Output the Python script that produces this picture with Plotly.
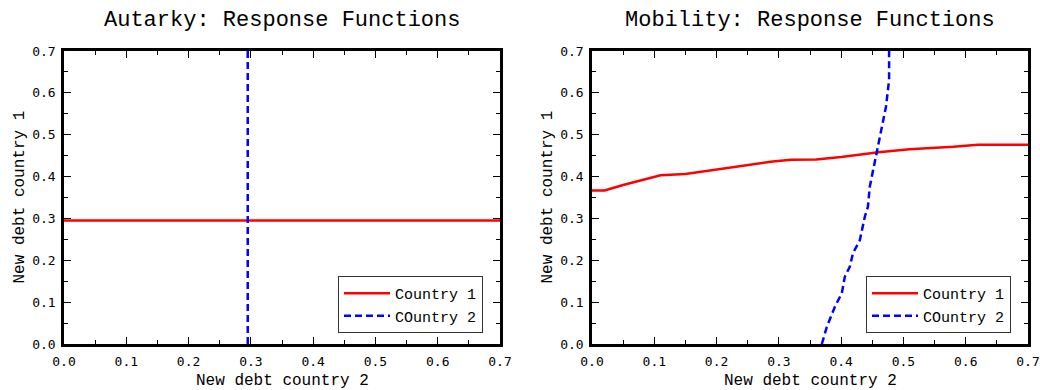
import plotly.graph_objects as go

# ---- data ----
aut_c1_x = [0.0, 0.7]
aut_c1_y = [0.295, 0.295]
aut_c2_x = [0.295, 0.295]
aut_c2_y = [0.0, 0.7]

mob_c1_x = [0.0, 0.02, 0.05, 0.08, 0.11, 0.15, 0.20, 0.25, 0.29, 0.32, 0.36, 0.40,
            0.43, 0.46, 0.51, 0.55, 0.58, 0.62, 0.70]
mob_c1_y = [0.367, 0.367, 0.380, 0.392, 0.403, 0.406, 0.417, 0.428, 0.436, 0.440, 0.441, 0.447,
            0.453, 0.458, 0.465, 0.468, 0.471, 0.476, 0.476]

mob_c2_x = [0.369, 0.377, 0.390, 0.401, 0.406, 0.414, 0.419, 0.430, 0.438, 0.443, 0.446,
            0.457, 0.462, 0.472, 0.477, 0.477]
mob_c2_y = [0.0, 0.041, 0.089, 0.121, 0.161, 0.185, 0.217, 0.248, 0.304, 0.328, 0.376,
            0.456, 0.495, 0.567, 0.631, 0.70]

titles = ["Autarky: Response Functions", "Mobility: Response Functions"]
xlabel = "New debt country 2"
ylabel = "New debt country 1"
names = ["Country 1", "COuntry 2"]
tick_vals = [0.0, 0.1, 0.2, 0.3, 0.4, 0.5, 0.6, 0.7]
tick_text = ["0.0", "0.1", "0.2", "0.3", "0.4", "0.5", "0.6", "0.7"]

W, H = 1040, 390
RED = "#ff0000"
BLUE = "#0000ff"
MONO = "Liberation Mono"
TICKF = "DejaVu Sans Mono"
DASH = "7px,4px"

fig = go.Figure()

fig.add_trace(go.Scatter(x=aut_c1_x, y=aut_c1_y, mode="lines", name=names[0],
                         line=dict(color=RED, width=2.5), xaxis="x", yaxis="y", legend="legend"))
fig.add_trace(go.Scatter(x=aut_c2_x, y=aut_c2_y, mode="lines", name=names[1],
                         line=dict(color=BLUE, width=2.5, dash=DASH), xaxis="x", yaxis="y", legend="legend"))
fig.add_trace(go.Scatter(x=mob_c1_x, y=mob_c1_y, mode="lines", name=names[0],
                         line=dict(color=RED, width=2.5), xaxis="x2", yaxis="y2", legend="legend2"))
fig.add_trace(go.Scatter(x=mob_c2_x, y=mob_c2_y, mode="lines", name=names[1],
                         line=dict(color=BLUE, width=2.5, dash=DASH), xaxis="x2", yaxis="y2", legend="legend2"))

px_l = [(64, 500), (592, 1028)]
ytop, ybot = 51, 344
ydom = [1 - ybot / H, 1 - ytop / H]


def axis_common():
    return dict(
        range=[0, 0.7], tickvals=tick_vals, ticktext=tick_text, automargin=False,
        showline=True, linecolor="black", linewidth=2.5, mirror="ticks",
        ticks="inside", ticklen=7, tickwidth=1, tickcolor="black",
        minor=dict(dtick=0.05, ticks="inside", ticklen=4, tickwidth=1, tickcolor="black"),
        showgrid=False, zeroline=False,
        tickfont=dict(family=TICKF, size=13, color="black"),
    )


layout = dict(
    width=W, height=H, margin=dict(l=0, r=0, t=0, b=0, autoexpand=False),
    paper_bgcolor="white", plot_bgcolor="white", showlegend=True,
)
for i, (a, b) in enumerate(px_l):
    sfx = "" if i == 0 else str(i + 1)
    xa = axis_common()
    xa.update(domain=[a / W, b / W], anchor="y" + sfx, ticklabelstandoff=4)
    ya = axis_common()
    ya.update(domain=ydom, anchor="x" + sfx, ticklabelstandoff=3)
    layout["xaxis" + sfx] = xa
    layout["yaxis" + sfx] = ya
    layout["legend" + sfx] = dict(
        x=(b - 17) / W, y=1 - 333 / H, xanchor="right", yanchor="bottom",
        xref="paper", yref="paper",
        bordercolor="#333333", borderwidth=1, bgcolor="white",
        font=dict(family=MONO, size=15, color="black"),
        tracegroupgap=0, itemwidth=46,
    )

fig.update_layout(**layout)

ann = []
for i, (a, b) in enumerate(px_l):
    cx = (a + b) / 2 / W
    ann.append(dict(text=titles[i], x=cx, y=1 - 20 / H, xref="paper", yref="paper",
                    xanchor="center", yanchor="middle", showarrow=False,
                    font=dict(family=MONO, size=22, color="black")))
    ann.append(dict(text=xlabel, x=cx, y=1 - 381 / H, xref="paper", yref="paper",
                    xanchor="center", yanchor="middle", showarrow=False,
                    font=dict(family=MONO, size=16, color="black")))
    ann.append(dict(text=ylabel, x=(a - 45) / W, y=1 - 197.5 / H, xref="paper", yref="paper",
                    xanchor="center", yanchor="middle", showarrow=False, textangle=-90,
                    font=dict(family=MONO, size=16, color="black")))
fig.update_layout(annotations=ann)

fig.write_html("out.html", config={"displayModeBar": False},
               post_script="document.body.style.margin='0';document.body.style.padding='0';"
                           "document.body.style.overflow='hidden';")
